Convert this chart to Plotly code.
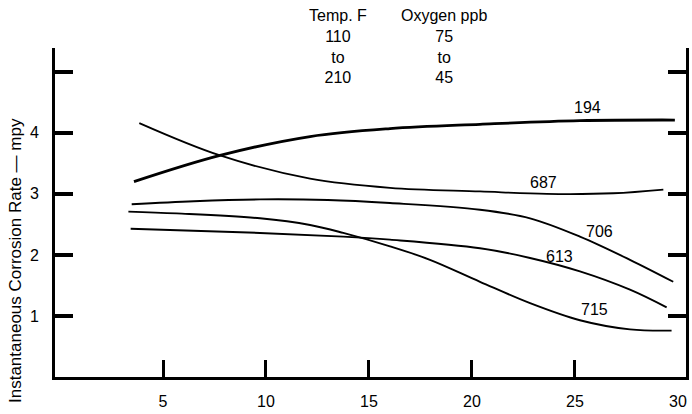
import plotly.graph_objects as go

# ---- data ----
x_194 = [3.59, 7.77, 12.14, 16.02, 20.39, 25.24, 29.85]
y_194 = [3.20, 3.63, 3.94, 4.07, 4.14, 4.20, 4.21]

x_687 = [3.85, 7.77, 12.14, 16.02, 20.39, 23.63, 26.86, 29.29]
y_687 = [4.16, 3.63, 3.25, 3.10, 3.04, 3.00, 3.01, 3.07]

x_706 = [3.48, 6.5, 9.71, 13.0, 16.02, 20.39, 22.82, 25.24, 27.67, 29.77]
y_706 = [2.83, 2.88, 2.91, 2.90, 2.85, 2.74, 2.60, 2.30, 1.92, 1.56]

x_613 = [3.43, 9.71, 13.75, 16.02, 20.39, 22.82, 25.24, 27.67, 29.45]
y_613 = [2.43, 2.36, 2.30, 2.25, 2.11, 1.95, 1.73, 1.43, 1.14]

x_715 = [3.32, 5.66, 9.71, 12.14, 13.75, 16.02, 17.96, 20.39, 22.82, 25.24, 27.67, 29.69]
y_715 = [2.71, 2.68, 2.60, 2.49, 2.36, 2.14, 1.92, 1.56, 1.21, 0.93, 0.78, 0.76]

series_names = ["194", "687", "706", "613", "715"]
label_x = [25.63, 23.45, 26.21, 24.27, 25.97]
label_y = [4.41, 3.18, 2.39, 1.97, 1.11]

x_tick_vals = [5, 10, 15, 20, 25]
x_label_vals = [5, 10, 15, 20, 25, 30]
x_label_text = ["5", "10", "15", "20", "25", "30"]
y_tick_vals = [1, 2, 3, 4, 5]
y_tick_text = ["1", "2", "3", "4", ""]

temp_lines = ["Temp. F", "110", "to", "210"]
oxy_lines = ["Oxygen ppb", "75", "to", "45"]
y_title = "Instantaneous Corrosion Rate \u2014 mpy"

FONT = "Liberation Sans, Arial, Helvetica, sans-serif"
W, H = 692, 414
ML, MR, MT, MB = 55, 6, 48, 37
PW, PH = W - ML - MR, H - MT - MB

xs = [x_194, x_687, x_706, x_613, x_715]
ys = [y_194, y_687, y_706, y_613, y_715]
widths = [2.8, 1.8, 1.9, 1.9, 1.9]

fig = go.Figure()
for name, xv, yv, w in zip(series_names, xs, ys, widths):
    fig.add_trace(go.Scatter(x=xv, y=yv, mode="lines", name=name,
                             line=dict(color="black", width=w, shape="spline", smoothing=1.0),
                             showlegend=False, hoverinfo="skip"))

# invisible trace on overlay axis so it renders
fig.add_trace(go.Scatter(x=[0], y=[0], xaxis="x2", mode="markers",
                         marker=dict(opacity=0), showlegend=False, hoverinfo="skip"))

annotations = []
for name, lx, ly in zip(series_names, label_x, label_y):
    annotations.append(dict(x=lx, y=ly, xref="x", yref="y", text=name, showarrow=False,
                            font=dict(family=FONT, size=16, color="black")))

def px_to_paper(px, py):
    return (px - ML) / PW, (H - MB - py) / PH

tx, ty = px_to_paper(338, 46)
annotations.append(dict(x=tx, y=ty, xref="paper", yref="paper", text="<br>".join(temp_lines),
                        showarrow=False, align="center", xanchor="center", yanchor="middle",
                        font=dict(family=FONT, size=16, color="black")))
ox, oy = px_to_paper(444, 46)
annotations.append(dict(x=ox, y=oy, xref="paper", yref="paper", text="<br>".join(oxy_lines),
                        showarrow=False, align="center", xanchor="center", yanchor="middle",
                        font=dict(family=FONT, size=16, color="black")))
ax_, ay_ = px_to_paper(15, 261)
annotations.append(dict(x=ax_, y=ay_, xref="paper", yref="paper", text=y_title, textangle=-90,
                        showarrow=False, xanchor="center", yanchor="middle",
                        font=dict(family=FONT, size=17, color="black")))

x_range = [-0.243, 30.39]
fig.update_layout(
    width=W, height=H,
    margin=dict(l=ML, r=MR, t=MT, b=MB, pad=0, autoexpand=False),
    paper_bgcolor="white", plot_bgcolor="white",
    font=dict(family=FONT, size=16, color="black"),
    xaxis=dict(range=x_range, tickvals=x_tick_vals, showticklabels=False,
               ticks="inside", ticklen=17, tickwidth=3, tickcolor="black",
               showline=True, linewidth=3, linecolor="black", mirror=False,
               showgrid=False, zeroline=False, automargin=False),
    xaxis2=dict(range=x_range, overlaying="x", side="bottom", tickvals=x_label_vals,
                ticktext=x_label_text, ticks="", showline=False, showgrid=False,
                zeroline=False, ticklabelstandoff=13, automargin=False,
                tickfont=dict(family=FONT, size=16, color="black")),
    yaxis=dict(range=[0, 5.39], tickvals=y_tick_vals, ticktext=y_tick_text,
               ticks="inside", ticklen=18, tickwidth=3.5, tickcolor="black",
               showline=True, linewidth=3, linecolor="black", mirror="ticks",
               showgrid=False, zeroline=False, ticklabelstandoff=10, automargin=False,
               tickfont=dict(family=FONT, size=16, color="black")),
    annotations=annotations,
)

fig.write_html("out.html", post_script="document.body.style.margin='0';",
               config={"displayModeBar": False})
